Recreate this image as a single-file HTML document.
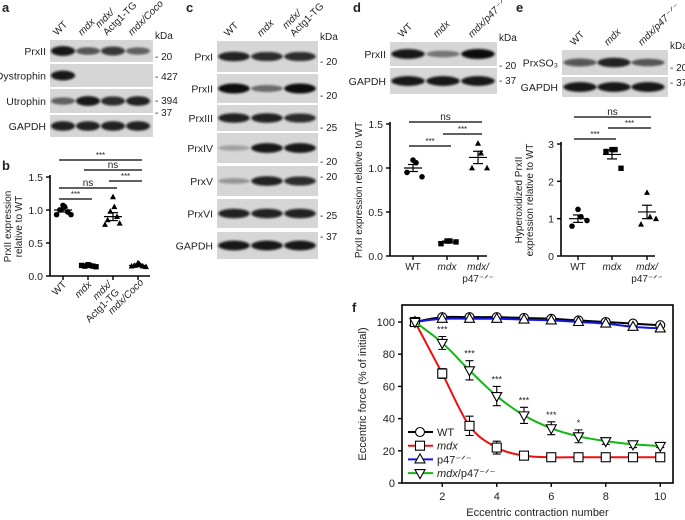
<!DOCTYPE html>
<html><head><meta charset="utf-8"><style>
body{margin:0;background:#fff}
svg{display:block;font-family:"Liberation Sans",sans-serif}
text{fill:#222}
</style></head><body>
<svg id="fig" width="685" height="520" viewBox="0 0 685 520">
<defs><filter id="bl" x="-20%" y="-100%" width="140%" height="300%"><feGaussianBlur stdDeviation="1.1"/></filter></defs>
<g id="labels" font-weight="bold" font-size="13">
<text x="2" y="12">a</text>
<text x="2" y="170">b</text>
<text x="186" y="12">c</text>
<text x="353" y="12">d</text>
<text x="516" y="12">e</text>
<text x="352" y="312">f</text>
</g>
<g id="blots"></g>
<g id="scatters"></g>
<g id="linechart"></g>
</svg>
<script>
const NS='http://www.w3.org/2000/svg';
function mk(parent,tag,attrs,txt){const e=document.createElementNS(NS,tag);for(const k in attrs)e.setAttribute(k,attrs[k]);if(txt!==undefined)e.textContent=txt;parent.appendChild(e);return e;}

// ---------- Blot data ----------
const blotA_rows=['PrxII','Dystrophin','Utrophin','GAPDH'];
const blotA_int=[[0.95,0.6,0.8,0.55],[0.95,0,0,0],[0.55,0.95,0.85,0.9],[0.9,0.9,0.9,0.9]];
const blotC_rows=['PrxI','PrxII','PrxIII','PrxIV','PrxV','PrxVI','GAPDH'];
const blotC_int=[[0.9,0.85,0.85],[1,0.5,1],[0.9,0.9,0.85],[0.25,0.95,0.95],[0.3,0.9,0.85],[0.9,0.9,0.9],[0.95,0.95,0.95]];
const blotD_rows=['PrxII','GAPDH'];
const blotD_int=[[0.95,0.45,1],[0.95,0.95,0.95]];
const blotE_rows=['PrxSO₃','GAPDH'];
const blotE_int=[[0.65,0.9,0.6],[0.95,0.95,0.95]];

const gB=document.getElementById('blots');
function blot(name,x0,x1,rowsY,rowNames,ints,lanes,heads,kda,kdaYs){
  const g=mk(gB,'g',{});
  
  
  rowsY.forEach((r,i)=>{
    const rr=mk(g,'rect',{x:x0,y:r[0],width:x1-x0,height:r[1]-r[0],fill:'#d6d6d6'});
    
    
    const cy=(r[0]+r[1])/2;
    const lw=(x1-x0)/lanes.length;
    ints[i].forEach((v,j)=>{ if(v>0){
      const b=mk(g,'ellipse',{cx:lanes[j],cy:cy,rx:lw*0.47,ry:2+v*3,fill:'#0a0a0a','fill-opacity':v,filter:'url(#bl)'});
      
      
    }});
    const t=mk(g,'text',{x:x0-4,y:cy+4,'font-size':10.5,'text-anchor':'end'},rowNames[i]);
    
    
  });
  heads.forEach((h,j)=>{
    const t=mk(g,'text',{transform:`translate(${lanes[j]-6},${rowsY[0][0]-4}) rotate(-45)`,'font-size':10},'');
    h.forEach((p,k)=>{mk(t,'tspan',{x:0,dy:k?-11:0,'font-style':p.i?'italic':'normal'},p.t);});
    
    
  });
  const kt=mk(g,'text',{x:x1+2,y:rowsY[0][0]-1,'font-size':10},'kDa');
  
  
  kda.forEach((k,i)=>{const t=mk(g,'text',{x:x1+2,y:kdaYs[i]+4,'font-size':10},'- '+k);
    
    });
}
const I=t=>({t:t,i:true}),N=t=>({t:t,i:false});
blot('blot-a',50,153,[[40,62],[64,87],[89,113],[115,137]],blotA_rows,blotA_int,[63,88,113,138],
 [[N('WT')],[I('mdx')],[N('Actg1-TG'),I('mdx/')],[I('mdx/Coco')]],['20','427','394','37'],[56,76,100,112]);
blot('blot-c',217,318,[[41,72],[74,103],[105,131],[133,163],[166,196],[199,228],[232,259]],blotC_rows,blotC_int,[234,267,300],
 [[N('WT')],[I('mdx')],[N('Actg1-TG'),I('mdx/')]],['20','20','25','20','20','25','37'],[61,95,127,161,176,215,236]);
blot('blot-d',390,497,[[42,66],[68,94]],blotD_rows,blotD_int,[408,443,478],
 [[N('WT')],[I('mdx')],[I('mdx/p47⁻ᐟ⁻')]],['20','37'],[65,80]);
blot('blot-e',562,668,[[50,75],[77,97]],blotE_rows,blotE_int,[580,614,648],
 [[N('WT')],[I('mdx')],[I('mdx/p47⁻ᐟ⁻')]],['20','37'],[67,82]);

// ---------- Scatter data ----------
const bCats=['WT','mdx','mdx/ Actg1-TG','mdx/Coco'];
const bVals=[[1.07,1.05,1.0,0.97,0.93,0.93],[0.17,0.16,0.15,0.15,0.16,0.14],[1.2,1.05,0.98,0.9,0.85,0.8,0.78],[0.2,0.18,0.16,0.15,0.15,0.14]];
const bMean=[1.0,0.15,0.9,0.16], bSem=[0.03,0.01,0.06,0.02];
const bTicks=[0,0.5,1.0,1.5];
const dCats=['WT','mdx','mdx/ p47⁻ᐟ⁻'];
const dVals=[[1.09,1.06,0.95,0.9],[0.17,0.17,0.14,0.16],[1.28,1.17,1.0,1.0]];
const dMean=[1.0,0.16,1.12], dSem=[0.04,0.01,0.07];
const dTicks=[0,0.5,1.0,1.5];
const eCats=['WT','mdx','mdx/ p47⁻ᐟ⁻'];
const eVals=[[1.25,1.05,0.8,0.95],[2.85,2.85,2.8,2.35],[1.7,1.05,0.85,1.0]];
const eMean=[1.0,2.72,1.18], eSem=[0.1,0.12,0.18];
const eTicks=[0,1,2,3];

const gS=document.getElementById('scatters');
function scatter(name,ax,ay0,ay1,vmax,xEnd,cx,cats,vals,means,sems,ticks,tickFmt,ytitle,sigs,catShapes,spread){
  const g=mk(gS,'g',{});
  
  
  const Y=v=>ay0-(v/vmax)*(ay0-ay1);
  mk(g,'line',{x1:ax,y1:Y(vmax)-2,x2:ax,y2:ay0,stroke:'#000','stroke-width':1.6});
  mk(g,'line',{x1:ax,y1:ay0,x2:xEnd,y2:ay0,stroke:'#000','stroke-width':1.6});
  ticks.forEach(t=>{mk(g,'line',{x1:ax-4,y1:Y(t),x2:ax,y2:Y(t),stroke:'#000','stroke-width':1.4});
    const tt=mk(g,'text',{x:ax-7,y:Y(t)+4,'font-size':10.5,'text-anchor':'end'},tickFmt(t));
    
    });
  cats.forEach((c,i)=>{
    mk(g,'line',{x1:cx[i],y1:ay0,x2:cx[i],y2:ay0+4,stroke:'#000','stroke-width':1.4});
    const n=vals[i].length, step=spread/(n-1);
    vals[i].forEach((v,k)=>{
      const px=cx[i]+(k%2?1:-1)*((k*step*0.5)%(spread/2+0.01)), py=Y(v);
      let p;
      if(catShapes[i]==='circle')p=mk(g,'circle',{cx:px,cy:py,r:2.8,fill:'#000'});
      else if(catShapes[i]==='square')p=mk(g,'rect',{x:px-2.7,y:py-2.7,width:5.4,height:5.4,fill:'#000'});
      else p=mk(g,'path',{d:`M${px},${py-3.2}L${px+3},${py+2.4}L${px-3},${py+2.4}Z`,fill:'#000'});
      
      
    });
    const m=Y(means[i]),hi=Y(means[i]+sems[i]),lo=Y(means[i]-sems[i]);
    mk(g,'line',{x1:cx[i]-9,y1:m,x2:cx[i]+9,y2:m,stroke:'#000','stroke-width':1.2});
    mk(g,'line',{x1:cx[i],y1:hi,x2:cx[i],y2:lo,stroke:'#000','stroke-width':1.2});
    mk(g,'line',{x1:cx[i]-5,y1:hi,x2:cx[i]+5,y2:hi,stroke:'#000','stroke-width':1.2});
    mk(g,'line',{x1:cx[i]-5,y1:lo,x2:cx[i]+5,y2:lo,stroke:'#000','stroke-width':1.2});
  });
  sigs.forEach(s=>{
    mk(g,'line',{x1:cx[s[0]]-4,y1:s[2],x2:cx[s[1]]+4,y2:s[2],stroke:'#000','stroke-width':1.2});
    const t=mk(g,'text',{x:(cx[s[0]]+cx[s[1]])/2,y:s[2]-2,'font-size':s[3]==='ns'?10:8,'text-anchor':'middle'},s[3]);
    
    
  });
  const lines=ytitle.length;
  ytitle.forEach((l,k)=>{const t=mk(g,'text',{transform:`translate(${ax-28+(k-(lines-1))*11},${(ay0+Y(vmax))/2}) rotate(-90)`,'font-size':10,'text-anchor':'middle'},l);
    
    });
  return g;
}
const f1=t=>t.toFixed(1), f0=t=>String(t);
scatter('chart-b',50,276,177,1.5,150,[63,88,113,138],bCats,bVals,bMean,bSem,bTicks,f1,['PrxII expression','relative to WT'],
  [[0,3,160,'***'],[1,3,170,'ns'],[0,2,188,'ns'],[2,3,181,'***'],[0,1,199,'***']],['circle','square','triangle','triangle'],16);
scatter('chart-d',390,256,124,1.5,487,[413,447,478],dCats,dVals,dMean,dSem,dTicks,f1,['PrxII expression relative to WT'],
  [[0,2,122,'ns'],[1,2,134,'***'],[0,1,146,'***']],['circle','square','triangle'],18);
scatter('chart-e',561,256,144,3,655,[578,612,647],eCats,eVals,eMean,eSem,eTicks,f0,['Hyperoxidized PrxII','expression relative to WT'],
  [[0,2,117,'ns'],[1,2,128,'***'],[0,1,139,'***']],['circle','square','triangle'],18);
function xl(x,y,parts,rot){const t=mk(gS,'text',{transform:rot?`translate(${x},${y}) rotate(-45)`:`translate(${x},${y})`,'font-size':10,'text-anchor':rot?'end':'middle'},'');
 parts.forEach((p,k)=>mk(t,'tspan',{x:0,dy:k?(rot?11:12):0,'font-style':p.i?'italic':'normal'},p.t));
 
 }
xl(67,285,[N('WT')],1);xl(92,285,[I('mdx')],1);xl(112,285,[I('mdx/'),N('Actg1-TG')],1);xl(144,283,[I('mdx/Coco')],1);
xl(413,270,[N('WT')]);xl(447,270,[I('mdx')]);xl(478,270,[I('mdx/'),N('p47⁻ᐟ⁻')]);
xl(578,270,[N('WT')]);xl(612,270,[I('mdx')]);xl(647,270,[I('mdx/'),N('p47⁻ᐟ⁻')]);

// ---------- Line chart f ----------
const fX=[1,2,3,4,5,6,7,8,9,10];
const fWT=[100,103,103,103,102.5,102,101,100,99,98];
const fMdx=[100,68,35.5,22,17,16,16,16,16,16];
const fP47=[100,102,102,102,101.5,101,100,99,97,96];
const fMdxP47=[100,87,70,54,42,34,29,26,24,23];
const fErrMdx=[0,3,6,4,1,0,0,0,0,0];
const fErrMdxP47=[0,4,6,6,5,4,4,2,2,1];
const fStars=['','***','***','***','***','***','*','','',''];
const fYTicks=[0,20,40,60,80,100];
const fXTicks=[2,4,6,8,10];
const gL=document.getElementById('linechart');
const L=402,R=673,T=305,B=483;
const FX=v=>415+(v-1)*27.25, FY=v=>483-v*1.61;
const fr=mk(gL,'rect',{x:L,y:T,width:R-L,height:B-T,fill:'none',stroke:'#000','stroke-width':1.6});


fYTicks.forEach(t=>{mk(gL,'line',{x1:L-4,y1:FY(t),x2:L,y2:FY(t),stroke:'#000','stroke-width':1.4});
 const tt=mk(gL,'text',{x:L-7,y:FY(t)+4,'font-size':11,'text-anchor':'end'},t);
 
 });
fXTicks.forEach(t=>{mk(gL,'line',{x1:FX(t),y1:B,x2:FX(t),y2:B+4,stroke:'#000','stroke-width':1.4});
 const tt=mk(gL,'text',{x:FX(t),y:B+17,'font-size':11,'text-anchor':'middle'},t);
 
 });
const yt=mk(gL,'text',{transform:`translate(366,${(T+B)/2}) rotate(-90)`,'font-size':11,'text-anchor':'middle'},'Eccentric force (% of initial)');


const xt=mk(gL,'text',{x:(L+R)/2,y:516,'font-size':11,'text-anchor':'middle'},'Eccentric contraction number');


function smooth(vals){let d=`M${FX(fX[0])},${FY(vals[0])}`;
 for(let i=0;i<vals.length-1;i++){const p0=[FX(fX[Math.max(i-1,0)]),FY(vals[Math.max(i-1,0)])],p1=[FX(fX[i]),FY(vals[i])],p2=[FX(fX[i+1]),FY(vals[i+1])],p3=[FX(fX[Math.min(i+2,vals.length-1)]),FY(vals[Math.min(i+2,vals.length-1)])];
  d+=`C${p1[0]+(p2[0]-p0[0])/6},${p1[1]+(p2[1]-p0[1])/6} ${p2[0]-(p3[0]-p1[0])/6},${p2[1]-(p3[1]-p1[1])/6} ${p2[0]},${p2[1]}`;}
 return d;}
function marker(g,shape,x,y){const s=4.5;let m;
 if(shape==='o')m=mk(g,'circle',{cx:x,cy:y,r:4.5,fill:'#fff',stroke:'#000','stroke-width':1.1});
 else if(shape==='s')m=mk(g,'rect',{x:x-s,y:y-s,width:2*s,height:2*s,fill:'#fff',stroke:'#000','stroke-width':1.1});
 else if(shape==='^')m=mk(g,'path',{d:`M${x},${y-5.5}L${x+5},${y+3.5}L${x-5},${y+3.5}Z`,fill:'#fff',stroke:'#000','stroke-width':1.1});
 else m=mk(g,'path',{d:`M${x},${y+5.5}L${x+5},${y-3.5}L${x-5},${y-3.5}Z`,fill:'#fff',stroke:'#000','stroke-width':1.1});
 return m;}
const series=[{n:'wt',v:fWT,c:'#000',m:'o',e:null},{n:'p47',v:fP47,c:'#1515e0',m:'^',e:null},{n:'mdx',v:fMdx,c:'#ee1111',m:'s',e:fErrMdx},{n:'mdx-p47',v:fMdxP47,c:'#11b811',m:'v',e:fErrMdxP47}];
series.forEach(s=>{const g=mk(gL,'g',{});
 
 
 mk(g,'path',{d:smooth(s.v),fill:'none',stroke:s.c,'stroke-width':2});
 s.v.forEach((v,i)=>{
  if(s.e&&s.e[i]>0){const x=FX(fX[i]),h=FY(v+s.e[i]),l=FY(v-s.e[i]);
   mk(g,'path',{d:`M${x},${h}V${l}M${x-4},${h}H${x+4}M${x-4},${l}H${x+4}`,stroke:'#000','stroke-width':1.1,fill:'none'});}
  const m=marker(g,s.m,FX(fX[i]),FY(v));
  
  
 });
});
fStars.forEach((s,i)=>{if(s){const t=mk(gL,'text',{x:FX(fX[i]),y:FY(fMdxP47[i]+fErrMdxP47[i])-4,'font-size':9,'text-anchor':'middle'},s);
 
 }});
const leg=[['WT','#000','o',false],['mdx','#ee1111','s',true],['p47⁻ᐟ⁻','#1515e0','^',false],['mdx/p47⁻ᐟ⁻','#11b811','v',true]];
leg.forEach((l,i)=>{const g=mk(gL,'g',{});
 
 
 const y=432+i*13.7;
 mk(g,'line',{x1:408,y1:y,x2:433,y2:y,stroke:l[1],'stroke-width':2});
 marker(g,l[2],420,y);
 const t=mk(g,'text',{x:437,y:y+4,'font-size':11},'');
 if(i===3){mk(t,'tspan',{'font-style':'italic'},'mdx');mk(t,'tspan',{},'/p47⁻ᐟ⁻');}
 else mk(t,'tspan',{'font-style':l[3]?'italic':'normal'},l[0]);
});
</script>
</body></html>
